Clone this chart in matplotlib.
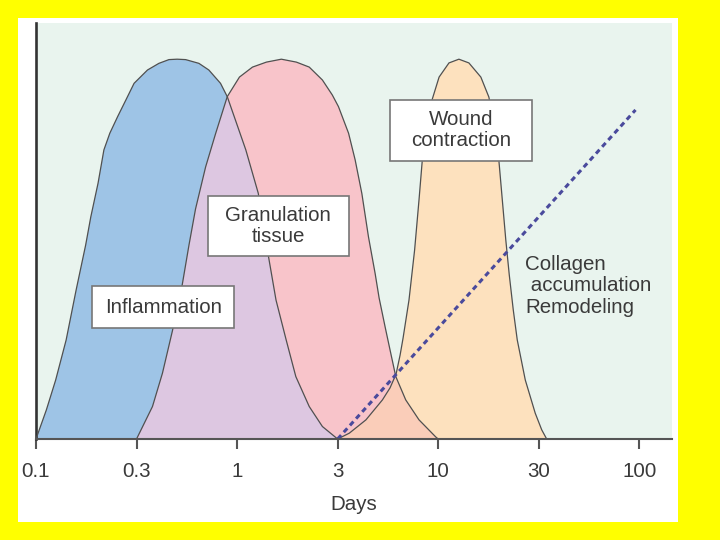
import numpy as np
import matplotlib
matplotlib.use("Agg")
import matplotlib.pyplot as plt
from matplotlib.patches import Rectangle

plt.rcParams['font.family'] = ['Liberation Sans', 'DejaVu Sans']

# x axis ticks (days); the picture spaces them evenly
tick_days = [0.1, 0.3, 1, 3, 10, 30, 100]
tick_labels = ["0.1", "0.3", "1", "3", "10", "30", "100"]

# outline of each phase (days, relative level)
inflam_days = [0.1, 0.112, 0.124, 0.139, 0.155, 0.172, 0.182, 0.197, 0.210, 0.224,
               0.244, 0.267, 0.292, 0.342, 0.392, 0.442, 0.488, 0.540, 0.633, 0.713,
               0.820, 0.889, 1.10, 1.26, 1.41, 1.53, 1.71, 1.90, 2.20, 2.54, 3.0]
inflam_level = [0, 7.0, 14.2, 23.8, 35.8, 46.6, 53.4, 61.5, 69.5, 73.5,
                77.5, 81.5, 85.5, 88.7, 90.3, 91.2, 91.3, 91.2, 90.3, 88.7,
                85.5, 82.3, 69.5, 59.1, 43.8, 33.4, 23.8, 15.0, 7.8, 3.0, 0]

granul_days = [0.3, 0.363, 0.409, 0.461, 0.519, 0.562, 0.608, 0.686, 0.773, 0.889,
               1.026, 1.183, 1.378, 1.622, 1.911, 2.20, 2.54, 2.83, 3.03, 3.42,
               3.70, 4.01, 4.34, 4.70, 4.93, 5.30, 5.62, 6.02, 6.78, 7.95, 9.71, 10.0]
granul_level = [0, 7.8, 15.8, 26.0, 37.2, 46.6, 55.3, 65.4, 73.4, 82.3,
                87.0, 89.4, 90.6, 91.3, 90.6, 89.4, 86.3, 82.7, 79.9, 73.5,
                67.1, 59.0, 48.6, 39.8, 33.9, 26.9, 21.4, 15.0, 9.4, 4.6, 0.5, 0]

wound_days = [3.0, 3.45, 4.21, 5.13, 5.62, 6.04, 6.34, 6.57, 7.05, 7.54,
              7.95, 8.27, 8.70, 9.29, 10.1, 11.25, 12.54, 13.99, 15.94, 17.40,
              18.67, 19.40, 20.15, 20.94, 21.75, 22.72, 23.73, 25.90, 28.88, 31.1, 33.0]
wound_level = [0, 1.4, 4.6, 9.4, 12.3, 15.6, 20.2, 24.3, 33.4, 45.4,
               57.5, 67.1, 74.3, 81.5, 87.0, 90.4, 91.3, 90.4, 87.0, 82.2,
               74.3, 67.1, 57.5, 47.8, 39.4, 31.0, 23.8, 14.2, 6.2, 2.2, 0]

collagen_days = [3.0, 95.6]
collagen_level = [0, 79.1]

# scale that puts 0.1, 0.3, 1, 3 ... at equal steps, log inside each step
knots = np.log10([0.01, 0.03, 0.1, 0.3, 1, 3, 10, 30, 100, 300, 1000])
steps = np.arange(len(knots), dtype=float)


def fwd(x):
    x = np.asarray(x, dtype=float)
    return np.interp(np.log10(np.clip(x, 1e-6, None)), knots, steps)


def inv(p):
    return 10 ** np.interp(np.asarray(p, dtype=float), steps, knots)


fig = plt.figure(figsize=(7.2, 5.4), dpi=100, facecolor='#ffff00')
fig.patches.append(Rectangle((18 / 720, 18 / 540), 660 / 720, 504 / 540,
                             transform=fig.transFigure, facecolor='white',
                             edgecolor='none', zorder=-1))

ax = fig.add_axes([36 / 720, 101 / 540, 636 / 720, 416 / 540])
ax.set_facecolor('#e9f4ee')
ax.set_xscale('function', functions=(fwd, inv))
ax.set_xlim(0.1, 143)
ax.set_ylim(0, 100)

blue = ax.fill(inflam_days, inflam_level, color='#9ec4e6', lw=0, zorder=1)[0]
pink = ax.fill(granul_days, granul_level, color='#f8c4ca', lw=0, zorder=2)[0]
purple = ax.fill(inflam_days, inflam_level, color='#ddc7e1', lw=0, zorder=3)[0]
purple.set_clip_path(pink)
orange = ax.fill(wound_days, wound_level, color='#fde1be', lw=0, zorder=4)[0]
salmon = ax.fill(granul_days, granul_level, color='#facdb9', lw=0, zorder=5)[0]
salmon.set_clip_path(orange)

for d, v in [(inflam_days, inflam_level), (granul_days, granul_level),
             (wound_days, wound_level)]:
    ax.plot(d, v, color='#505050', lw=0.9, zorder=6, solid_joinstyle='round')

ax.plot(collagen_days, collagen_level, color='#4a4a9c', lw=2.2,
        dashes=(1.7, 1.3), zorder=7, clip_on=False)

# label boxes
txt = dict(fontsize=14.8, color='#3a3a3a', ha='center', va='center',
           transform=ax.transAxes, zorder=9, linespacing=1.15)
boxes = [((0.088, 0.267), 0.223, 0.101, 'Inflammation', (0.200, 0.317)),
         ((0.270, 0.440), 0.222, 0.144, 'Granulation\ntissue', (0.381, 0.512)),
         ((0.557, 0.668), 0.223, 0.147, 'Wound\ncontraction', (0.668, 0.742))]
for xy, w, h, label, c in boxes:
    ax.add_patch(Rectangle(xy, w, h, transform=ax.transAxes, facecolor='white',
                           edgecolor='#777777', lw=1.2, zorder=8))
    ax.text(c[0], c[1], label, **txt)

ax.text(0.769, 0.368, 'Collagen\n accumulation\nRemodeling', fontsize=14.8,
        color='#3a3a3a', ha='left', va='center', transform=ax.transAxes,
        linespacing=1.15, zorder=9)

ax.spines['top'].set_visible(False)
ax.spines['right'].set_visible(False)
ax.spines['left'].set_color('#333333')
ax.spines['left'].set_linewidth(1.9)
ax.spines['bottom'].set_color('#555555')
ax.spines['bottom'].set_linewidth(1.5)
ax.spines['bottom'].set_zorder(10)

ax.set_yticks([])
ax.set_xticks(tick_days)
ax.set_xticklabels(tick_labels)
ax.xaxis.set_minor_locator(matplotlib.ticker.NullLocator())
ax.tick_params(axis='x', direction='out', length=7.5, width=1.5,
               color='#555555', labelsize=14.8, labelcolor='#3a3a3a', pad=9)
ax.set_xlabel('Days', fontsize=14.8, color='#3a3a3a', labelpad=10)

fig.savefig('out.png', dpi=100)
